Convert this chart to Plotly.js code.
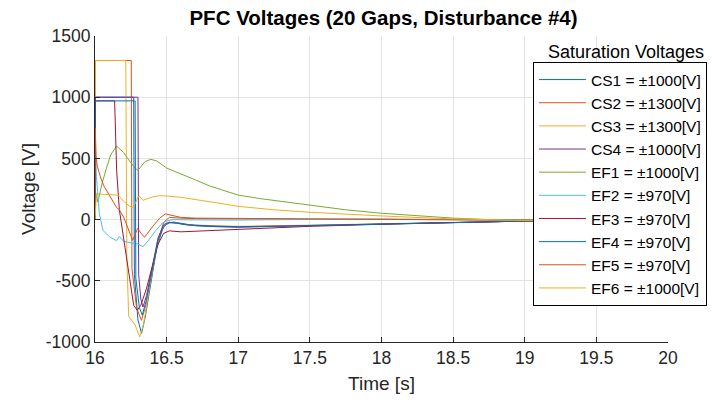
<!DOCTYPE html>
<html>
<head>
<meta charset="utf-8">
<script src="https://cdn.plot.ly/plotly-3.0.1.min.js"></script>
<style>html,body{margin:0;padding:0;background:#fff;}#chart{width:719px;height:405px;}</style>
</head>
<body>
<div id="chart"></div>
<script>
// ---- data ----
const seriesNames = ["CS1 = \u00b11000[V]", "CS2 = \u00b11300[V]", "CS3 = \u00b11300[V]", "CS4 = \u00b11000[V]", "EF1 = \u00b11000[V]",
                     "EF2 = \u00b1970[V]", "EF3 = \u00b1970[V]", "EF4 = \u00b1970[V]", "EF5 = \u00b1970[V]", "EF6 = \u00b11000[V]"];

const tCS1 = [16, 16.001, 16.27, 16.275, 16.30, 16.325, 16.35, 16.39, 16.43, 16.47, 16.5, 16.55, 16.6, 16.7, 16.85, 17, 17.5, 18, 18.5, 19, 19.5, 20];
const vCS1 = [0, 1000, 1000, -450, -820, -930, -800, -520, -240, -80, -30, -20, -32, -50, -58, -60, -48, -35, -22, -12, -6, -3];

const tCS2 = [16, 16.003, 16.253, 16.258, 16.29, 16.324, 16.36, 16.4, 16.44, 16.48, 16.52, 16.6, 16.7, 17, 17.5, 18, 18.5, 19, 20];
const vCS2 = [0, 1300, 1300, -400, -720, -823, -680, -420, -170, -20, 18, 12, 8, 6, 4, 1, -3, -7, -5];

const tCS3 = [16, 16.003, 16.215, 16.222, 16.235, 16.28, 16.312, 16.34, 16.38, 16.42, 16.46, 16.5, 16.55, 16.6, 16.7, 17, 17.5, 18, 18.5, 19, 20];
const vCS3 = [0, 1300, 1300, -300, -790, -860, -959, -850, -560, -280, -90, -30, -22, -35, -45, -55, -45, -32, -20, -12, -5];

const tCS4 = [16, 16.003, 16.30, 16.305, 16.32, 16.335, 16.36, 16.4, 16.44, 16.48, 16.52, 16.57, 16.65, 16.8, 17, 17.5, 18, 18.5, 19, 20];
const vCS4 = [0, 1000, 1000, -450, -650, -714, -620, -380, -150, -40, -22, -28, -42, -52, -58, -48, -35, -22, -12, -4];

const tEF1 = [16, 16.005, 16.02, 16.05, 16.08, 16.11, 16.15, 16.17, 16.2, 16.24, 16.28, 16.30, 16.32, 16.35, 16.39, 16.43, 16.5, 16.6, 16.7, 16.8, 16.9, 17, 17.15, 17.3, 17.5, 17.75, 18, 18.25, 18.5, 18.75, 19, 19.5, 20];
const vEF1 = [0, 220, 144, 300, 420, 530, 601, 578, 548, 480, 420, 403, 430, 475, 492, 480, 421, 375, 325, 275, 236, 200, 172, 148, 117, 80, 52, 30, 12, 0, -7, -10, -8];

const tEF2 = [16, 16.002, 16.01, 16.03, 16.056, 16.1, 16.15, 16.17, 16.2, 16.25, 16.3, 16.335, 16.37, 16.42, 16.47, 16.5, 16.55, 16.6, 16.7, 17, 17.5, 18, 18.5, 19, 20];
const vEF2 = [0, 650, 350, 50, -88, -140, -172, -137, -178, -190, -200, -222, -175, -95, -28, -12, 2, -2, -4, -4, 2, 5, 0, -6, -4];

const tEF3 = [16, 16.002, 16.137, 16.145, 16.151, 16.17, 16.222, 16.27, 16.295, 16.32, 16.36, 16.4, 16.44, 16.48, 16.52, 16.6, 16.7, 16.85, 17, 17.5, 18, 18.5, 19, 20];
const vEF3 = [0, 970, 970, 600, 401, 80, -332, -700, -741, -700, -560, -380, -200, -112, -92, -100, -95, -85, -75, -55, -38, -22, -12, -4];

const tEF4 = [16, 16.002, 16.28, 16.285, 16.31, 16.33, 16.36, 16.4, 16.44, 16.48, 16.52, 16.57, 16.65, 16.8, 17, 17.5, 18, 18.5, 19, 20];
const vEF4 = [0, 970, 970, -480, -720, -780, -650, -400, -170, -55, -25, -30, -45, -55, -62, -50, -36, -22, -12, -4];

const tEF5 = [16, 16.002, 16.008, 16.016, 16.04, 16.063, 16.1, 16.15, 16.173, 16.2, 16.263, 16.28, 16.298, 16.32, 16.346, 16.4, 16.45, 16.49, 16.53, 16.6, 16.7, 17, 17.5, 18, 18.5, 19, 20];
const vEF5 = [0, 750, 500, 437, 340, 273, 200, 100, 76, 20, -169, -120, -71, -110, -145, -60, 10, 47, 38, 18, 12, 10, 8, 3, -2, -6, -5];

const tEF6 = [16, 16.005, 16.01, 16.03, 16.06, 16.1, 16.15, 16.17, 16.2, 16.24, 16.26, 16.28, 16.3, 16.31, 16.335, 16.36, 16.4, 16.45, 16.5, 16.6, 16.7, 16.8, 16.9, 17, 17.25, 17.5, 17.77, 18, 18.4, 18.7, 19, 19.5, 20];
const vEF6 = [0, 180, 200, 213, 205, 205, 200, 190, 150, 110, 98, 130, 185, 190, 158, 168, 185, 195, 193, 182, 166, 148, 128, 108, 80, 60, 41, 30, 10, 0, -8, -10, -8];

const seriesT = [tCS1, tCS2, tCS3, tCS4, tEF1, tEF2, tEF3, tEF4, tEF5, tEF6];
const seriesV = [vCS1, vCS2, vCS3, vCS4, vEF1, vEF2, vEF3, vEF4, vEF5, vEF6];

const xTickVals = [16, 16.5, 17, 17.5, 18, 18.5, 19, 19.5, 20];
const xTickText = ["16", "16.5", "17", "17.5", "18", "18.5", "19", "19.5", "20"];
const yTickVals = [-1000, -500, 0, 500, 1000, 1500];
const yTickText = ["-1000", "-500", "0", "500", "1000", "1500"];

const chartTitle = "PFC Voltages (20 Gaps, Disturbance #4)";
const xLabel = "Time [s]";
const yLabel = "Voltage [V]";
const legendTitle = "Saturation Voltages";

// ---- styles ----
const colors = ["#0072BD", "#D95319", "#EDB120", "#7E2F8E", "#77AC30", "#4DBEEE", "#A2142F", "#0072BD", "#D95319", "#EDB120"];
const FONT = "Liberation Sans, Arial, Helvetica, sans-serif";
const INK = "#262626";

const traces = seriesNames.map((name, i) => ({
  type: "scatter", mode: "lines", name: name,
  x: seriesT[i], y: seriesV[i],
  line: {color: colors[i], width: 1}
}));

const L = 95, R = 47, T = 36, B = 63, W = 719, H = 405;
const pw = W - L - R, ph = H - T - B;

const layout = {
  width: W, height: H,
  margin: {l: L, r: R, t: T, b: B, pad: 0},
  paper_bgcolor: "#fff", plot_bgcolor: "#fff",
  font: {family: FONT, color: INK, size: 17},
  title: {text: "<b>" + chartTitle + "</b>", font: {family: FONT, size: 20.5, color: "#000"},
          x: (L + pw / 2) / W, xanchor: "center", y: 1 - 18 / H, yanchor: "middle"},
  xaxis: {
    range: [16, 20], tickvals: xTickVals, ticktext: xTickText,
    showgrid: true, gridcolor: "#e3e3e3", gridwidth: 1, zeroline: false,
    showline: true, linecolor: INK, linewidth: 1, mirror: false,
    ticks: "inside", ticklen: 5, tickcolor: INK, tickfont: {size: 17.5, color: INK},
    title: {text: xLabel, font: {size: 19, color: INK}, standoff: 9}
  },
  yaxis: {
    range: [-1000, 1500], tickvals: yTickVals, ticktext: yTickText,
    showgrid: true, gridcolor: "#e3e3e3", gridwidth: 1, zeroline: false,
    showline: true, linecolor: INK, linewidth: 1, mirror: false,
    ticks: "inside", ticklen: 5, tickcolor: INK, tickfont: {size: 17.5, color: INK},
    title: {text: yLabel, font: {size: 19, color: INK}, standoff: 5}
  },
  showlegend: true,
  legend: {
    x: (536 - L) / pw, y: (H - B - 62) / ph, xanchor: "left", yanchor: "top",
    bgcolor: "#fff", bordercolor: "#000", borderwidth: 1,
    font: {size: 15.5, color: "#000"}, tracegroupgap: 0, itemwidth: 47
  },
  annotations: [{
    text: legendTitle, showarrow: false, xref: "paper", yref: "paper",
    x: (630 - L) / pw, y: (H - B - 52) / ph, xanchor: "center", yanchor: "middle",
    font: {size: 18, color: "#000"}
  }]
};

Plotly.newPlot("chart", traces, layout, {staticPlot: true, displayModeBar: false});
</script>
</body>
</html>
